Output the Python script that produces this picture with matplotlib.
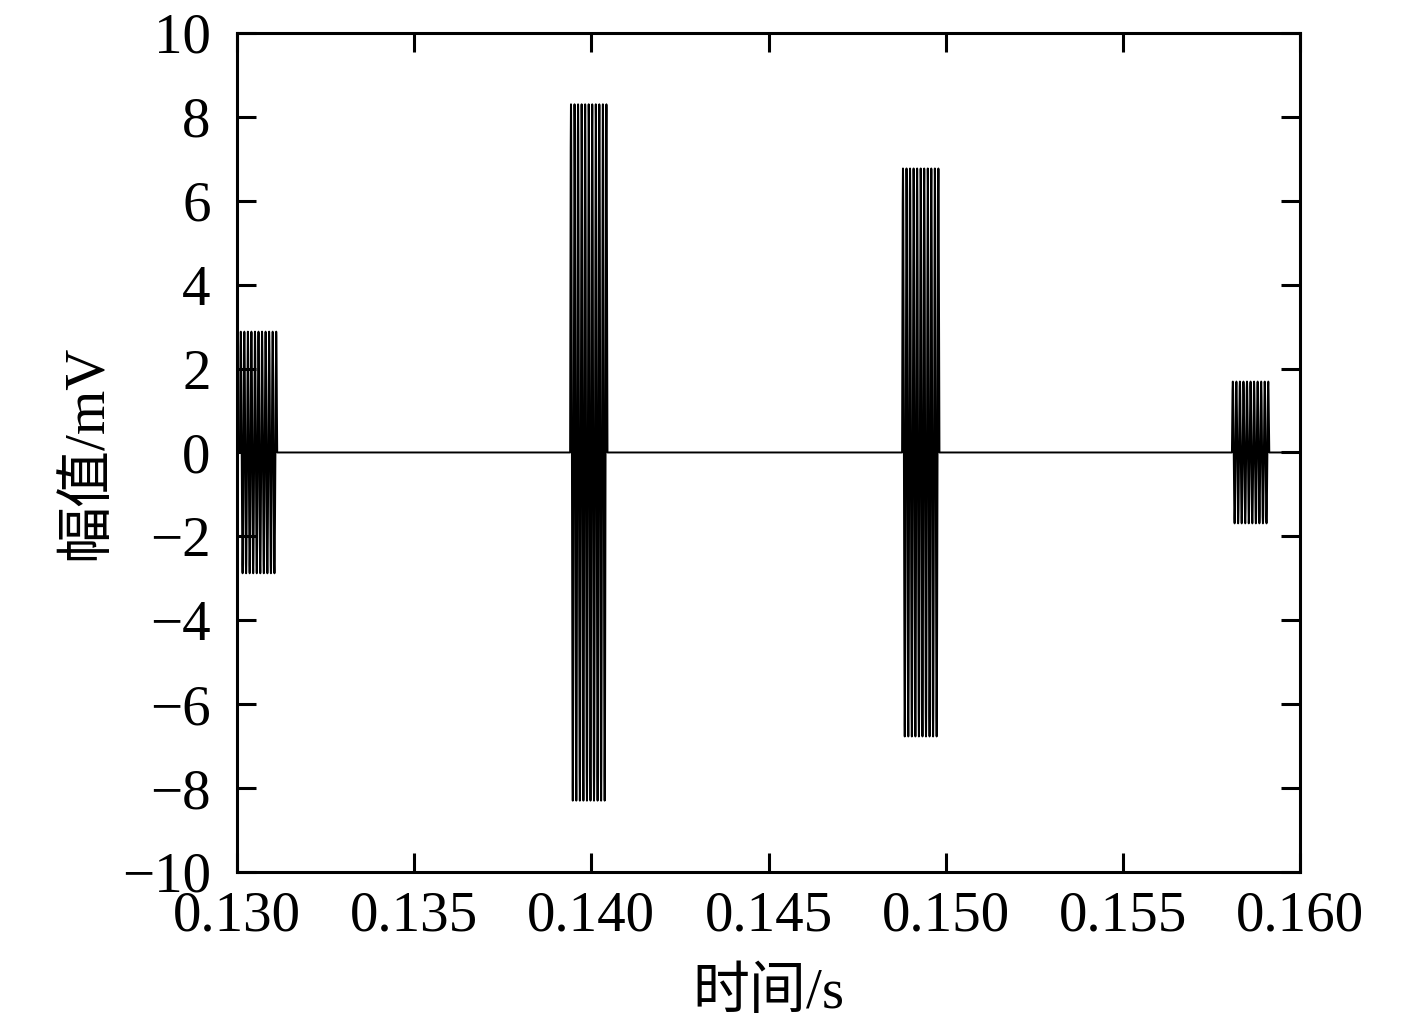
import matplotlib
matplotlib.use("Agg")
import matplotlib.pyplot as plt
import numpy as np
from matplotlib.ticker import FormatStrFormatter

plt.rcParams["font.family"] = ["Liberation Serif", "Noto Sans CJK SC"]
plt.rcParams["axes.unicode_minus"] = True

# burst start times (s), carrier cycles per burst, peak amplitudes (mV)
burst_start = [0.13008, 0.13940, 0.14877, 0.15808]
burst_cycles = [10.5, 10.5, 10.5, 10.5]
burst_amp = [2.88, 8.30, 6.77, 1.69]
carrier_freq = 10000.0  # Hz, read from the ~10 strokes per burst

xticks = [0.130, 0.135, 0.140, 0.145, 0.150, 0.155, 0.160]
yticks = [-10, -8, -6, -4, -2, 0, 2, 4, 6, 8, 10]

t = np.arange(0.1300, 0.1600, 2e-7)
v = np.zeros_like(t)
for t0, cyc, amp in zip(burst_start, burst_cycles, burst_amp):
    phase = carrier_freq * (t - t0)
    on = (phase >= 0) & (phase <= cyc)
    v[on] = amp * np.sin(2 * np.pi * phase[on])

fig = plt.figure(figsize=(14.17, 10.28), dpi=100)
ax = fig.add_axes([0.1673, 0.1518, 0.9174 - 0.1673, 0.9679 - 0.1518])
ax.plot(t, v, color="black", linewidth=1.4)

ax.set_xlim(0.130, 0.160)
ax.set_ylim(-10, 10)
ax.set_xticks(xticks)
ax.set_yticks(yticks)
ax.xaxis.set_major_formatter(FormatStrFormatter("%.3f"))
ax.tick_params(direction="in", length=14, width=2.2, top=True, right=True,
               labelsize=41)
ax.tick_params(axis="x", pad=13)
ax.tick_params(axis="y", pad=19)
for s in ax.spines.values():
    s.set_linewidth(2.2)

ax.set_xlabel("时间/s", fontsize=41, labelpad=18)
ax.set_ylabel("幅值/mV", fontsize=41, labelpad=6)

fig.savefig("out.png", dpi=100)
